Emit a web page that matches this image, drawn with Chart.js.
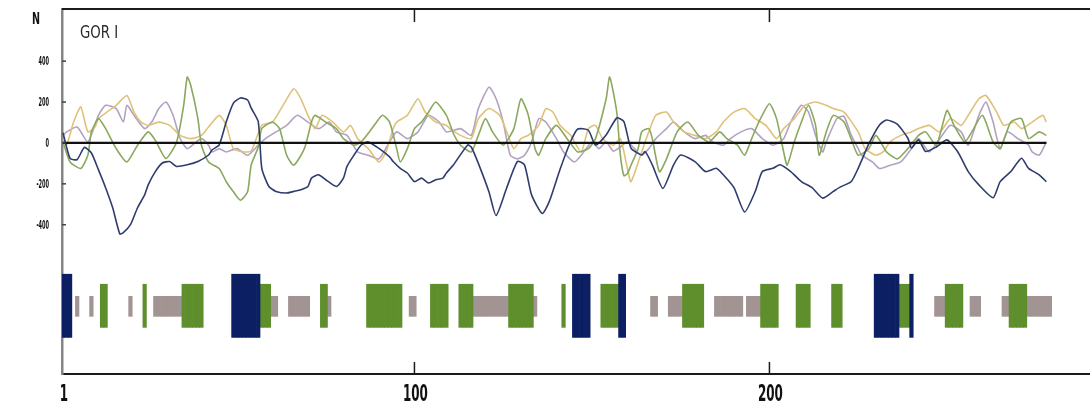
<!DOCTYPE html>
<html>
<head>
<meta charset="utf-8">
<title>GOR I</title>
<script src="https://cdn.jsdelivr.net/npm/chart.js@4.4.0/dist/chart.umd.min.js"></script>
<style>
  html, body { margin: 0; padding: 0; background: #fff; }
  #wrap { position: relative; width: 1090px; height: 406px; }
</style>
</head>
<body>
<div id="wrap">
  <canvas id="gor" width="1090" height="406"></canvas>
</div>
<script>
// GOR I propensity profiles, [residue, value]
const helixProfile = [[1,50],[3,-76],[5,-81],[7,-22],[9,-49],[11,-132],[13,-219],[15,-317],[17,-445],[18,-439],
  [20,-400],[22,-317],[24,-254],[25,-205],[27,-140],[29,-98],[31,-91],[33,-115],[36,-107],[39,-91],
  [42,-59],[43,-34],[45,-10],[47,104],[49,195],[51,220],[53,210],[54,171],[56,104],[57,-124],
  [59,-213],[61,-237],[64,-245],[66,-237],[68,-229],[70,-213],[71,-172],[73,-156],[75,-180],[78,-213],
  [80,-172],[81,-115],[83,-59],[85,-10],[87,5],[90,-27],[93,-68],[94,-91],[96,-124],[98,-147],
  [100,-189],[102,-172],[104,-196],[106,-180],[108,-172],[109,-147],[111,-107],[115,-10],[116,-20],[118,-100],
  [121,-240],[123,-355],[126,-219],[129,-91],[131,-107],[133,-254],[136,-345],[138,-286],[141,-130],[144,7],
  [146,68],[149,62],[151,-10],[154,39],[157,122],[159,104],[161,-25],[164,-59],[165,-42],[167,-107],
  [170,-222],[173,-107],[175,-59],[179,-91],[182,-140],[185,-124],[187,-156],[190,-219],[193,-338],[196,-237],
  [198,-140],[201,-124],[203,-107],[206,-140],[209,-189],[212,-219],[215,-270],[218,-237],[220,-215],[223,-190],
  [225,-124],[228,-5],[231,88],[233,112],[236,92],[239,23],[240,-25],[242,15],[244,-42],[247,-20],
  [250,15],[253,-42],[256,-140],[259,-205],[263,-268],[265,-189],[268,-140],[271,-75],[273,-124],[276,-156],
  [278,-190]];

const sheetProfile = [[1,5],[3,-93],[6,-125],[8,-60],[9,54],[11,119],[13,70],[16,-28],[19,-93],[22,-11],
  [25,54],[27,13],[30,-76],[33,5],[35,184],[36,322],[37,281],[39,119],[40,-11],[42,-93],
  [45,-125],[47,-190],[49,-239],[51,-280],[53,-239],[54,-109],[56,-20],[57,70],[60,102],[62,70],
  [64,-60],[66,-109],[69,-28],[71,102],[72,135],[75,102],[78,70],[80,21],[83,-11],[85,5],
  [88,70],[91,135],[93,102],[95,-28],[96,-93],[98,-28],[100,70],[102,102],[104,151],[106,200],
  [109,135],[111,45],[113,-11],[116,-44],[118,37],[120,119],[122,54],[125,-11],[128,70],[130,216],
  [132,140],[134,-30],[135,-60],[137,21],[140,86],[143,21],[146,-44],[149,-28],[151,21],[154,216],
  [155,322],[157,150],[158,-60],[159,-160],[160,-150],[161,-109],[163,-28],[164,54],[166,70],[167,21],
  [169,-141],[171,-78],[174,54],[177,102],[180,37],[183,5],[186,54],[188,21],[191,-11],[193,-60],
  [195,21],[197,102],[200,192],[202,119],[204,-44],[205,-109],[207,5],[209,102],[211,184],[213,86],
  [214,-60],[216,54],[218,135],[221,102],[223,21],[225,-60],[228,-28],[230,37],[233,-44],[236,-78],
  [239,-28],[242,37],[244,54],[247,-11],[250,159],[252,86],[255,5],[257,54],[260,135],[263,5],
  [265,-28],[268,102],[271,119],[273,21],[276,54],[278,37]];

const turnProfile = [[1,21],[2,-11],[4,102],[6,176],[8,54],[10,78],[11,119],[14,159],[16,184],[19,232],
  [21,151],[23,102],[25,86],[28,102],[31,86],[34,37],[37,21],[40,37],[42,78],[45,135],
  [47,86],[49,-28],[52,-44],[54,-40],[57,86],[60,102],[63,184],[66,265],[68,216],[70,135],
  [72,70],[74,135],[77,102],[80,54],[82,86],[84,21],[87,-28],[90,-93],[92,-44],[94,70],
  [95,102],[98,135],[101,216],[103,151],[106,102],[109,86],[110,70],[113,37],[116,21],[118,119],
  [121,168],[124,135],[126,54],[128,-28],[130,21],[132,37],[135,86],[137,168],[139,151],[141,86],
  [144,37],[147,-44],[149,70],[151,86],[153,21],[156,-11],[158,21],[160,-125],[161,-190],[164,-44],
  [166,54],[168,135],[171,151],[173,102],[176,54],[179,37],[182,21],[185,54],[187,102],[190,151],
  [193,168],[196,119],[199,86],[202,21],[204,70],[207,119],[210,184],[213,200],[216,184],[218,168],
  [221,151],[225,54],[227,-28],[230,-60],[232,-44],[234,5],[237,37],[240,54],[242,70],[245,86],
  [248,54],[251,119],[254,86],[256,135],[259,216],[261,232],[264,151],[266,86],[269,102],[271,70],
  [274,102],[277,135],[278,102]];

const coilProfile = [[1,37],[2,54],[5,78],[8,5],[11,135],[13,184],[16,168],[18,102],[19,184],[21,135],
  [24,70],[26,102],[28,168],[30,200],[32,135],[34,21],[36,-28],[38,-3],[40,21],[42,-11],
  [43,-44],[45,-28],[47,-44],[50,-28],[53,-60],[56,-11],[58,21],[61,54],[64,86],[67,135],
  [70,102],[73,70],[76,102],[78,54],[81,37],[84,-44],[87,-60],[90,-78],[93,5],[95,54],
  [98,21],[101,54],[104,135],[107,102],[109,54],[113,70],[116,37],[118,168],[121,273],[123,216],
  [125,102],[127,-60],[129,-78],[131,-60],[133,5],[135,119],[137,102],[140,21],[142,-44],[145,-93],
  [147,-60],[150,5],[152,-28],[154,5],[156,-40],[158,-20],[160,5],[162,-28],[164,-60],[166,-28],
  [168,21],[171,70],[173,102],[176,54],[179,21],[182,37],[184,5],[187,-11],[189,21],[192,54],
  [195,70],[198,21],[201,-11],[204,21],[206,102],[209,184],[211,151],[213,37],[215,-44],[216,5],
  [219,119],[221,130],[223,40],[225,-28],[226,-60],[229,-93],[231,-125],[234,-109],[237,-93],[240,-28],
  [242,21],[245,-44],[248,21],[251,86],[254,54],[256,-11],[259,135],[261,200],[263,102],[265,-28],
  [267,54],[270,21],[273,-11],[274,-44],[276,-60],[278,5]];

// predicted structure, as [first, last] residue ranges
const helixSegs = [[1,3],[49,56],[145,149],[158,159],[230,236],[240,240]];
const sheetSegs = [[12,13],[24,24],[35,40],[57,59],[74,75],[87,96],[105,109],[113,116],[127,133],
  [142,142],[153,157],[176,181],[198,202],[208,211],[218,220],[237,239],[250,254],[268,272]];
const coilSegs = [[5,5],[9,9],[20,20],[27,34],[60,61],[65,70],[76,76],[99,100],[117,126],[134,134],
  [167,168],[172,175],[185,192],[194,197],[247,249],[257,259],[266,267],[273,279]];

// vertical extent of each structure band
const helixBand = [-951, -642];
const sheetBand = [-902, -691];
const coilBand = [-848, -750];

const xTickValues = [1, 100, 200];
const yTickValues = [400, 200, 0, -200, -400];

const toPoints = profile => profile.map(([x, y]) => ({ x, y }));

function expandSegs(segs, band) {
  const pts = [];
  segs.forEach(([a, b]) => {
    for (let r = a; r <= b; r++) pts.push({ x: r, y: band });
  });
  return pts;
}

const firstRes = helixProfile[0][0];
const lastRes = helixProfile[helixProfile.length - 1][0];

function profileLine(label, profile, color) {
  return {
    type: 'line',
    label,
    data: toPoints(profile),
    borderColor: color,
    borderWidth: 1.6,
    pointRadius: 0,
    tension: 0.2,
    order: 2
  };
}

function structBars(label, segs, band, color) {
  return {
    type: 'bar',
    label,
    data: expandSegs(segs, band),
    backgroundColor: color,
    borderWidth: 0,
    barPercentage: 1,
    categoryPercentage: 1,
    grouped: false,
    order: 5
  };
}

// squeezed text, the labels on this plot are very narrow
function squashText(ctx, text, x, y, sx, align) {
  ctx.save();
  ctx.translate(x, y);
  ctx.scale(sx, 1);
  ctx.textAlign = align;
  ctx.fillText(text, 0, 0);
  ctx.restore();
}

const frameDecor = {
  id: 'frameDecor',
  afterDraw(chart) {
    const { ctx, chartArea: a, scales: { x, y } } = chart;
    ctx.save();
    // top frame line
    ctx.strokeStyle = '#1a1a1a';
    ctx.lineWidth = 2;
    ctx.beginPath();
    ctx.moveTo(a.left, a.top);
    ctx.lineTo(a.right, a.top);
    ctx.stroke();

    // inner tick marks
    ctx.lineWidth = 1.5;
    xTickValues.filter(v => v > firstRes).forEach(v => {
      const px = x.getPixelForValue(v);
      ctx.beginPath();
      ctx.moveTo(px, a.top);
      ctx.lineTo(px, a.top + 13);
      ctx.moveTo(px, a.bottom);
      ctx.lineTo(px, a.bottom - 12);
      ctx.stroke();
    });
    ctx.strokeStyle = '#444';
    yTickValues.forEach(v => {
      const py = y.getPixelForValue(v);
      ctx.beginPath();
      ctx.moveTo(a.left, py);
      ctx.lineTo(a.left + 4, py);
      ctx.stroke();
    });

    // tick labels
    ctx.fillStyle = '#111';
    ctx.textBaseline = 'alphabetic';
    ctx.font = "bold 23px 'DejaVu Sans'";
    xTickValues.forEach(v => {
      squashText(ctx, String(v), x.getPixelForValue(v) + 1, 401, 0.52, 'center');
    });
    ctx.font = "bold 12px 'DejaVu Sans'";
    ctx.textBaseline = 'middle';
    yTickValues.forEach(v => {
      squashText(ctx, String(v), 49, y.getPixelForValue(v) + 1, 0.42, 'right');
    });

    // axis letter and method name
    ctx.textBaseline = 'alphabetic';
    ctx.font = "bold 16px 'DejaVu Sans'";
    squashText(ctx, 'N', 32, 24, 0.6, 'left');
    ctx.fillStyle = '#2a2a2a';
    ctx.font = "18px 'DejaVu Sans'";
    squashText(ctx, 'GOR I', 80, 38, 0.74, 'left');
    ctx.restore();
  }
};

new Chart(document.getElementById('gor'), {
  data: {
    datasets: [
      {
        type: 'line',
        label: 'zero',
        data: [{ x: firstRes, y: 0 }, { x: lastRes, y: 0 }],
        borderColor: '#111',
        borderWidth: 2.2,
        pointRadius: 0,
        order: 0
      },
      profileLine('Helix', helixProfile, '#2f3c6e'),
      profileLine('Sheet', sheetProfile, '#8aa85e'),
      profileLine('Turn', turnProfile, '#dfc27a'),
      profileLine('Coil', coilProfile, '#b2a2c2'),
      structBars('Helix', helixSegs, helixBand, '#0c1f63'),
      structBars('Sheet', sheetSegs, sheetBand, '#5e8f2c'),
      structBars('Coil', coilSegs, coilBand, '#a39494')
    ]
  },
  options: {
    responsive: false,
    animation: false,
    events: [],
    layout: { padding: { top: 9, right: 0, bottom: 0, left: 0 } },
    plugins: { legend: { display: false }, tooltip: { enabled: false } },
    scales: {
      x: {
        type: 'linear',
        offset: false,
        min: 0.72,
        max: 290.3,
        ticks: { display: false },
        grid: { display: false, drawTicks: false, offset: false },
        border: { color: '#1a1a1a', width: 2 },
        afterFit: s => { s.height = 32; }
      },
      y: {
        type: 'linear',
        min: -1130,
        max: 655,
        ticks: { display: false },
        grid: { display: false, drawTicks: false },
        border: { color: '#858585', width: 2.5 },
        afterFit: s => { s.width = 62; }
      }
    }
  },
  plugins: [frameDecor]
});
</script>
</body>
</html>
